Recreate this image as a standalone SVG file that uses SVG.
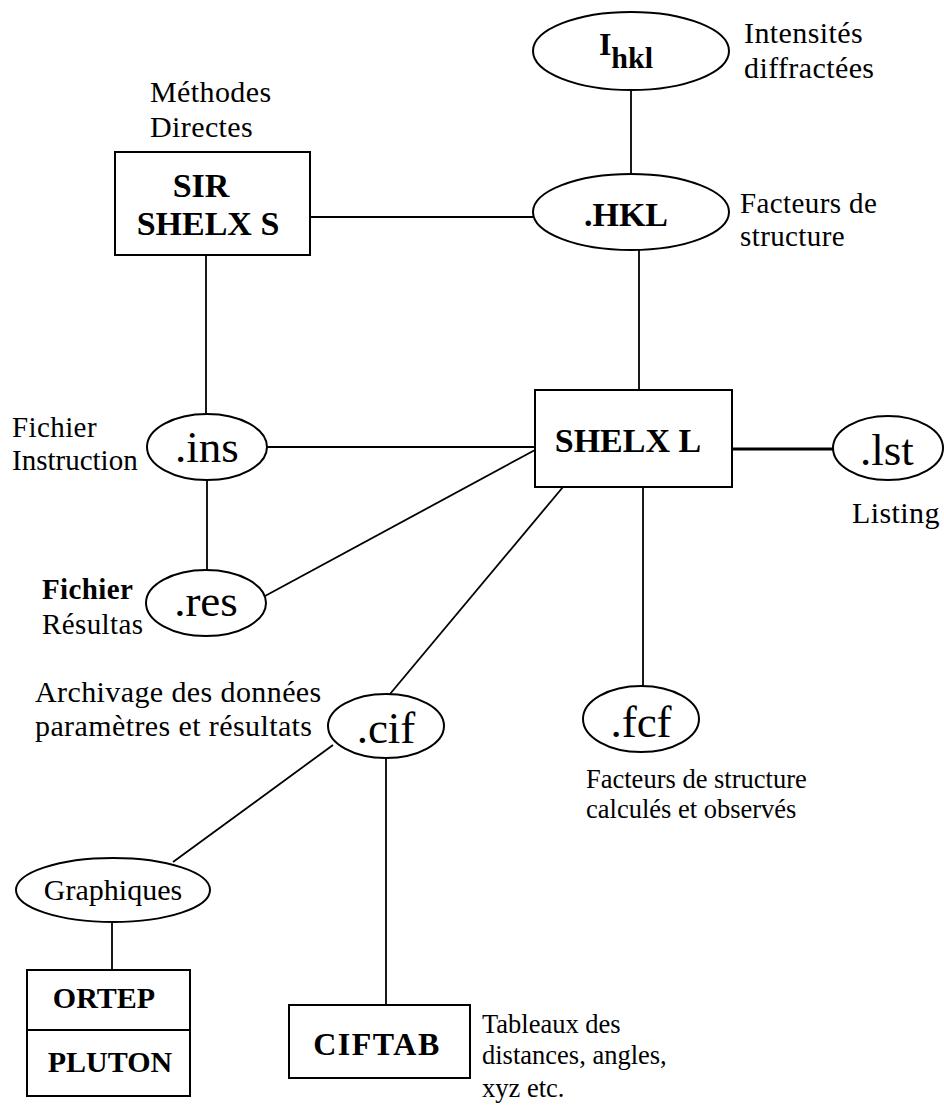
<svg xmlns="http://www.w3.org/2000/svg" width="944" height="1106" viewBox="0 0 944 1106">
<style>
.shape{fill:#fff;stroke:#000;stroke-width:2}
.conn line{stroke:#000;stroke-width:1.8}
text{font-family:'Liberation Serif','Times New Roman',serif;fill:#000}
.lbl{font-size:30px;letter-spacing:0.4px}
.md{font-size:29px}
.sm{font-size:26.5px;letter-spacing:0}
.node{text-anchor:middle}
.b{font-weight:bold;font-size:34px}
.ext{font-size:45px}
</style>
<rect width="944" height="1106" fill="#fff"/>
<g id="connectors" class="conn">
<line x1="631" y1="90" x2="631" y2="174"/>
<line x1="310" y1="217" x2="533" y2="217"/>
<line x1="639" y1="250" x2="639" y2="390"/>
<line x1="206" y1="255" x2="206" y2="414"/>
<line x1="267" y1="447" x2="535" y2="447"/>
<line x1="207" y1="480" x2="207" y2="571"/>
<line x1="265" y1="596" x2="535" y2="450"/>
<line x1="732" y1="449" x2="833" y2="449" style="stroke-width:3"/>
<line x1="563" y1="487" x2="390" y2="694"/>
<line x1="643" y1="487" x2="643" y2="687"/>
<line x1="386" y1="758" x2="386" y2="1005"/>
<line x1="333" y1="745" x2="173" y2="862"/>
<line x1="112" y1="922" x2="112" y2="970"/>
</g>
<g id="node-ihkl">
<ellipse class="shape" cx="631" cy="51" rx="98" ry="39"/>
<text class="node" x="626" y="55" style="font-weight:bold;font-size:32px">I<tspan dy="13" style="font-size:30px">hkl</tspan></text>
<text class="lbl" x="744" y="43">Intensités</text>
<text class="lbl" x="744" y="78">diffractées</text>
</g>
<g id="node-hkl">
<ellipse class="shape" cx="631" cy="212" rx="98" ry="38"/>
<text class="node b" x="626" y="226">.HKL</text>
<text class="lbl md" x="740" y="213">Facteurs de</text>
<text class="lbl md" x="740" y="246">structure</text>
</g>
<g id="node-sir">
<rect class="shape" x="115" y="152" width="195" height="103"/>
<text class="node b" x="201" y="197">SIR</text>
<text class="node b" x="208" y="235">SHELX S</text>
<text class="lbl" x="150" y="102">Méthodes</text>
<text class="lbl" x="150" y="137">Directes</text>
</g>
<g id="node-ins">
<ellipse class="shape" cx="207" cy="447" rx="60" ry="33"/>
<text class="node ext" x="207" y="462">.ins</text>
<text class="lbl md" x="12" y="437">Fichier</text>
<text class="lbl md" x="12" y="470" style="letter-spacing:0">Instruction</text>
</g>
<g id="node-res">
<ellipse class="shape" cx="206" cy="603" rx="60" ry="33"/>
<text class="node ext" x="206" y="616">.res</text>
<text class="lbl md" x="42" y="599" style="font-weight:bold">Fichier</text>
<text class="lbl md" x="42" y="634">Résultas</text>
</g>
<g id="node-shelxl">
<rect class="shape" x="535" y="390" width="197" height="97"/>
<text class="node b" x="628" y="452">SHELX L</text>
</g>
<g id="node-lst">
<ellipse class="shape" cx="888" cy="448" rx="55" ry="32"/>
<text class="node ext" x="887" y="465">.lst</text>
<text class="lbl" x="852" y="523">Listing</text>
</g>
<g id="node-cif">
<ellipse class="shape" cx="386" cy="726" rx="58" ry="32"/>
<text class="node ext" x="386" y="743">.cif</text>
<text class="lbl" x="35" y="702">Archivage des données</text>
<text class="lbl" x="35" y="736">paramètres et résultats</text>
</g>
<g id="node-fcf">
<ellipse class="shape" cx="641" cy="719" rx="58" ry="33"/>
<text class="node ext" x="641" y="737">.fcf</text>
<text class="lbl sm" x="586" y="788">Facteurs de structure</text>
<text class="lbl sm" x="586" y="818">calculés et observés</text>
</g>
<g id="node-graphiques">
<ellipse class="shape" cx="113" cy="890" rx="97" ry="32"/>
<text class="node" x="113" y="900" style="font-size:30px">Graphiques</text>
</g>
<g id="node-ortep">
<rect class="shape" x="27" y="970" width="163" height="126"/>
<line x1="27" y1="1030" x2="190" y2="1030" stroke="#000" stroke-width="2"/>
<text class="node" x="104" y="1008" style="font-weight:bold;font-size:30px">ORTEP</text>
<text class="node" x="110" y="1072" style="font-weight:bold;font-size:30px">PLUTON</text>
</g>
<g id="node-ciftab">
<rect class="shape" x="289" y="1005" width="181" height="73"/>
<text class="node" x="377" y="1055" style="font-weight:bold;font-size:32px;letter-spacing:1.5px">CIFTAB</text>
<text class="lbl sm" x="482" y="1033">Tableaux des</text>
<text class="lbl sm" x="482" y="1064">distances, angles,</text>
<text class="lbl sm" x="482" y="1097">xyz etc.</text>
</g>
</svg>
